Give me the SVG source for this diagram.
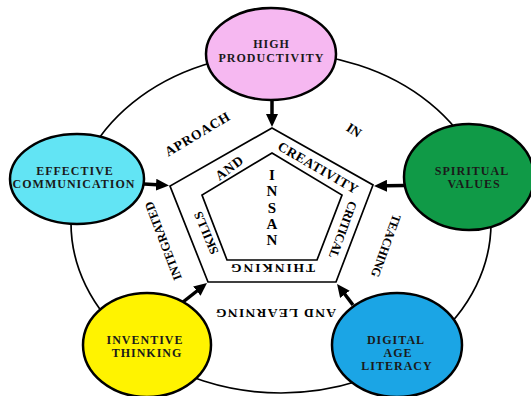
<svg xmlns="http://www.w3.org/2000/svg" width="531" height="396" viewBox="0 0 531 396">
<style>
.node{stroke:#000;stroke-width:2.5}
.lbl{font-family:"Liberation Serif","Times New Roman",serif;font-weight:bold;font-size:12px;fill:#1a1a1a;text-anchor:middle;letter-spacing:1px}
.band{font-family:"Liberation Serif","Times New Roman",serif;font-weight:bold;font-size:13.5px;fill:#000;text-anchor:middle}
.sm{font-size:12.5px}
.insan{font-family:"Liberation Serif","Times New Roman",serif;font-weight:bold;font-size:15px;fill:#000;text-anchor:middle}
.line{fill:none;stroke:#000;stroke-width:1.7}
.arrow{stroke:#000;stroke-width:3.5;fill:none;marker-end:url(#ah)}
</style>
<defs>
<marker id="ah" markerUnits="userSpaceOnUse" markerWidth="13" markerHeight="12" refX="1" refY="6" orient="auto" viewBox="0 0 13 12"><path d="M0,0 L13,6 L0,12 z" fill="#000"/></marker>
</defs>
<rect width="531" height="396" fill="#fff"/>
<g id="ring">
<ellipse class="line" cx="281" cy="223" rx="210" ry="170"/>
<text class="band" transform="translate(197,134) rotate(-31)" dy="0.35em" textLength="73" lengthAdjust="spacing">APROACH</text>
<text class="band" transform="translate(354,130) rotate(33)" dy="0.35em">IN</text>
<text class="band sm" transform="translate(386,246) rotate(110)" dy="0.35em" textLength="66" lengthAdjust="spacing">TEACHING</text>
<text class="band" transform="translate(276,314) rotate(180)" dy="0.35em" textLength="120" lengthAdjust="spacing">AND LEARNING</text>
<text class="band sm" transform="translate(163,241) rotate(-111)" dy="0.35em" textLength="83" lengthAdjust="spacing">INTEGRATED</text>
</g>
<g id="core">
<polygon class="line" points="272,128 373,185 336,282 208,282 170,186"/>
<polygon class="line" points="272,153 342,195 317,260 227,260 202,195"/>
<text class="band" transform="translate(318,167.5) rotate(30)" dy="0.35em" textLength="90" lengthAdjust="spacing">CREATIVITY</text>
<text class="band sm" transform="translate(343,230) rotate(110)" dy="0.35em" textLength="60" lengthAdjust="spacing">CRITICAL</text>
<text class="band" transform="translate(273,269) rotate(180)" dy="0.35em" textLength="84" lengthAdjust="spacing">THINKING</text>
<text class="band sm" transform="translate(206,233) rotate(-113)" dy="0.35em" textLength="45" lengthAdjust="spacing">SKILLS</text>
<text class="band" transform="translate(229,168) rotate(-37)" dy="0.35em" textLength="31" lengthAdjust="spacing">AND</text>
<text class="insan" x="272" y="180">I</text>
<text class="insan" x="272" y="196">N</text>
<text class="insan" x="272" y="213">S</text>
<text class="insan" x="272" y="229">A</text>
<text class="insan" x="272" y="245">N</text>
</g>
<g id="node-high-productivity">
<ellipse class="node" cx="271" cy="54" rx="65" ry="46" fill="#F6B8F1"/>
<text class="lbl" x="271.5" y="48">HIGH</text>
<text class="lbl" x="271.5" y="62">PRODUCTIVITY</text>
</g>
<g id="node-effective-communication">
<ellipse class="node" cx="77" cy="179" rx="67" ry="45" fill="#62E4F4"/>
<text class="lbl" x="75" y="175">EFFECTIVE</text>
<text class="lbl" x="74" y="188">COMMUNICATION</text>
</g>
<g id="node-spiritual-values">
<ellipse class="node" cx="469" cy="177" rx="65" ry="53" fill="#109A47"/>
<text class="lbl" x="472" y="175">SPIRITUAL</text>
<text class="lbl" x="474" y="188">VALUES</text>
</g>
<g id="node-inventive-thinking">
<ellipse class="node" cx="147" cy="345" rx="64" ry="52" fill="#FFF300"/>
<text class="lbl" x="145" y="344">INVENTIVE</text>
<text class="lbl" x="147" y="357">THINKING</text>
</g>
<g id="node-digital-age-literacy">
<ellipse class="node" cx="397" cy="345" rx="65" ry="52" fill="#1BA5E5"/>
<text class="lbl" x="396" y="344">DIGITAL</text>
<text class="lbl" x="398" y="357">AGE</text>
<text class="lbl" x="397" y="370">LITERACY</text>
</g>
<g id="connectors">
<line class="arrow" x1="272" y1="100" x2="272" y2="115"/>
<line class="arrow" x1="144" y1="184" x2="157" y2="184.8"/>
<line class="arrow" x1="404" y1="185.5" x2="386" y2="185.8"/>
<line class="arrow" x1="183" y1="302" x2="197.6" y2="290.5"/>
<line class="arrow" x1="353" y1="305" x2="344.3" y2="293.5"/>
</g>
</svg>
